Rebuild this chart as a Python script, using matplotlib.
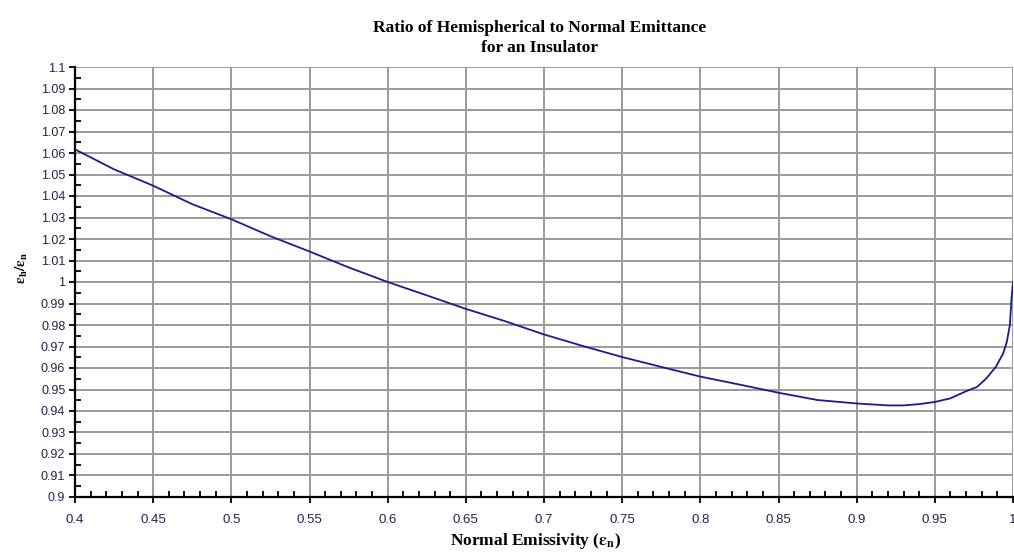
import numpy as np
import matplotlib
matplotlib.use('Agg')
import matplotlib.pyplot as plt
from matplotlib.ticker import MultipleLocator, FuncFormatter


# values
emis_n = [0.4, 0.425, 0.45, 0.475, 0.5, 0.525, 0.55, 0.575, 0.6, 0.625,
          0.65, 0.675, 0.7, 0.725, 0.75, 0.775, 0.8, 0.825, 0.85, 0.875,
          0.9, 0.92, 0.93, 0.94, 0.95, 0.96, 0.97, 0.977, 0.983, 0.989,
          0.9936, 0.996, 0.998, 0.999, 1.0]
ratio = [1.0617, 1.0524, 1.0448, 1.0362, 1.0292, 1.0213, 1.0142, 1.0068, 1.0000, 0.9938,
         0.9875, 0.9818, 0.9756, 0.9702, 0.9651, 0.9605, 0.9560, 0.9523, 0.9485, 0.9451,
         0.9435, 0.9426, 0.9426, 0.9432, 0.9442, 0.9459, 0.9492, 0.9512, 0.9552, 0.9605,
         0.9666, 0.9720, 0.9800, 0.9920, 1.0000]

title = 'Ratio of Hemispherical to Normal Emittance\nfor an Insulator'
xlabel = r'Normal Emissivity ($\mathbf{\varepsilon_n}$)'
ylabel = r'$\mathbf{\varepsilon_h/\varepsilon_n}$'

TICK_COLOR = '#24244a'
SERIF = ['Liberation Serif', 'DejaVu Serif']

plt.rcParams['font.family'] = ['Liberation Sans', 'DejaVu Sans']
plt.rcParams['mathtext.fontset'] = 'stix'

fig = plt.figure(figsize=(10.14, 5.58), dpi=100)
ax = fig.add_axes([75 / 1014, 1 - 497 / 558, 938 / 1014, 430 / 558])

ax.plot(emis_n, ratio, color='#1c1c8a', lw=1.3, zorder=3)

ax.set_xlim(0.4, 1.0)
ax.set_ylim(0.9, 1.1)

ax.xaxis.set_major_locator(MultipleLocator(0.05))
ax.xaxis.set_minor_locator(MultipleLocator(0.01))
ax.yaxis.set_major_locator(MultipleLocator(0.01))
ax.yaxis.set_minor_locator(MultipleLocator(0.005))

fmt = FuncFormatter(lambda v, p: '%g' % round(v, 3))
ax.xaxis.set_major_formatter(fmt)
ax.yaxis.set_major_formatter(fmt)

ax.grid(True, which='major', color='#9a9a9a', lw=1.4, zorder=0)
ax.set_axisbelow(True)

for s in ['top', 'right']:
    ax.spines[s].set_visible(False)
for s in ['left', 'bottom']:
    ax.spines[s].set_linewidth(1.6)
    ax.spines[s].set_color('black')

ax.tick_params(which='major', direction='out', length=4, width=1.3,
               labelcolor=TICK_COLOR, pad=3)
ax.tick_params(which='minor', direction='in', length=4, width=1.3)
ax.tick_params(axis='x', which='major', labelsize=9.5, pad=8)
ax.tick_params(axis='y', which='major', labelsize=9)

fig.text(0.5325, 0.965, title, ha='center', va='top', fontsize=12.5,
         fontweight='bold', family=SERIF, linespacing=1.35)
fig.text(0.528, 0.012, xlabel, ha='center', va='bottom', fontsize=12.5,
         fontweight='bold', family=SERIF)
fig.text(0.022, 0.52, ylabel, ha='center', va='center', fontsize=11,
         rotation=90)

fig.savefig('out.png', dpi=100)
